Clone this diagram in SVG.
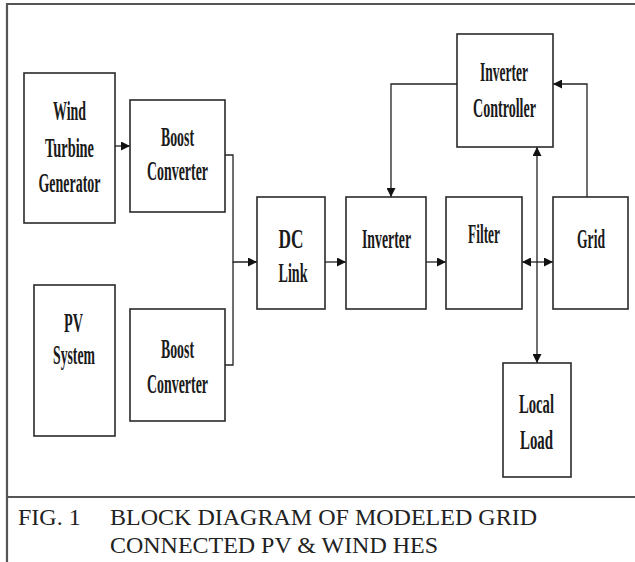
<svg xmlns="http://www.w3.org/2000/svg" width="635" height="562" viewBox="0 0 635 562">
<style>
.box{fill:#fff;stroke:#2a2a2a;stroke-width:1.6}
.lbl{font-family:"Liberation Serif","Times New Roman",serif;font-weight:bold;font-size:27px;fill:#1a1a1a;text-anchor:middle}
.cap{font-family:"Liberation Serif","Times New Roman",serif;font-size:24px;fill:#222}
.con{fill:none;stroke:#222;stroke-width:1.3}
.frame{fill:none;stroke:#555;stroke-width:2.2}
</style>
<defs>
<marker id="ah" viewBox="0 0 10 10" refX="10" refY="5" markerWidth="9" markerHeight="9" markerUnits="userSpaceOnUse" orient="auto-start-reverse">
<path d="M0,0 L10,5 L0,10 Z" fill="#111"/>
</marker>
</defs>
<rect width="635" height="562" fill="#fff"/>
<g id="frame">
<path class="frame" d="M7,562 V4 H635"/>
<line class="frame" x1="7" y1="497" x2="635" y2="497"/>
</g>
<g id="connectors">
<line class="con" x1="115" y1="146" x2="130" y2="146" marker-end="url(#ah)"/>
<path class="con" d="M225,155 H233 V262 H257" marker-end="url(#ah)"/>
<path class="con" d="M225,365 H233 V262"/>
<line class="con" x1="325" y1="262" x2="346" y2="262" marker-end="url(#ah)"/>
<line class="con" x1="426" y1="262" x2="446" y2="262" marker-end="url(#ah)"/>
<line class="con" x1="522" y1="262" x2="553" y2="262" marker-start="url(#ah)" marker-end="url(#ah)"/>
<line class="con" x1="537" y1="147" x2="537" y2="363" marker-start="url(#ah)" marker-end="url(#ah)"/>
<path class="con" d="M457,84 H391 V197" marker-end="url(#ah)"/>
<path class="con" d="M587,197 V84 H553" marker-end="url(#ah)"/>
</g>
<g id="wind">
<rect class="box" x="24" y="73" width="91" height="150"/>
<text class="lbl" x="69.5" y="120" textLength="33" lengthAdjust="spacingAndGlyphs">Wind</text>
<text class="lbl" x="69.5" y="157" textLength="49" lengthAdjust="spacingAndGlyphs">Turbine</text>
<text class="lbl" x="69.5" y="192" textLength="62" lengthAdjust="spacingAndGlyphs">Generator</text>
</g>
<g id="boost1">
<rect class="box" x="130" y="100" width="95" height="112"/>
<text class="lbl" x="177.5" y="146" textLength="33" lengthAdjust="spacingAndGlyphs">Boost</text>
<text class="lbl" x="177.5" y="180" textLength="61" lengthAdjust="spacingAndGlyphs">Converter</text>
</g>
<g id="pv">
<rect class="box" x="34" y="285" width="81" height="151"/>
<text class="lbl" x="73.5" y="332" textLength="19" lengthAdjust="spacingAndGlyphs">PV</text>
<text class="lbl" x="74" y="364" textLength="42" lengthAdjust="spacingAndGlyphs">System</text>
</g>
<g id="boost2">
<rect class="box" x="130" y="309" width="95" height="112"/>
<text class="lbl" x="177.5" y="358" textLength="33" lengthAdjust="spacingAndGlyphs">Boost</text>
<text class="lbl" x="177.5" y="393" textLength="61" lengthAdjust="spacingAndGlyphs">Converter</text>
</g>
<g id="dclink">
<rect class="box" x="257" y="197" width="68" height="112"/>
<text class="lbl" x="291" y="248" textLength="25" lengthAdjust="spacingAndGlyphs">DC</text>
<text class="lbl" x="293" y="282" textLength="29" lengthAdjust="spacingAndGlyphs">Link</text>
</g>
<g id="inverter">
<rect class="box" x="346" y="197" width="80" height="112"/>
<text class="lbl" x="386.5" y="248" textLength="49" lengthAdjust="spacingAndGlyphs">Inverter</text>
</g>
<g id="filter">
<rect class="box" x="446" y="197" width="76" height="112"/>
<text class="lbl" x="484" y="243" textLength="32" lengthAdjust="spacingAndGlyphs">Filter</text>
</g>
<g id="grid">
<rect class="box" x="553" y="197" width="75" height="112"/>
<text class="lbl" x="591" y="248" textLength="28" lengthAdjust="spacingAndGlyphs">Grid</text>
</g>
<g id="controller">
<rect class="box" x="457" y="34" width="96" height="113"/>
<text class="lbl" x="504" y="81" textLength="48" lengthAdjust="spacingAndGlyphs">Inverter</text>
<text class="lbl" x="504.5" y="117" textLength="63" lengthAdjust="spacingAndGlyphs">Controller</text>
</g>
<g id="load">
<rect class="box" x="503" y="363" width="68" height="114"/>
<text class="lbl" x="536.5" y="413" textLength="35" lengthAdjust="spacingAndGlyphs">Local</text>
<text class="lbl" x="536.5" y="449" textLength="33" lengthAdjust="spacingAndGlyphs">Load</text>
</g>
<g id="caption">
<text class="cap" x="18" y="525">FIG. 1</text>
<text class="cap" x="110" y="525" textLength="427" lengthAdjust="spacingAndGlyphs">BLOCK DIAGRAM OF MODELED GRID</text>
<text class="cap" x="110" y="553" textLength="328" lengthAdjust="spacingAndGlyphs">CONNECTED PV &amp; WIND HES</text>
</g>
</svg>
